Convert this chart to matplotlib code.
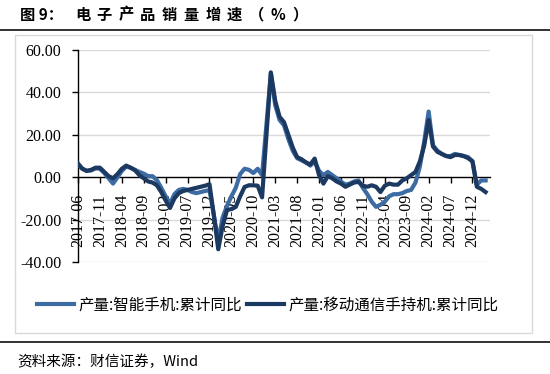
import pandas as pd
import matplotlib.pyplot as plt
from matplotlib.lines import Line2D
from matplotlib.patches import Rectangle
from matplotlib.ticker import FuncFormatter

# monthly categories, 2017-06 .. 2025-03
months = pd.date_range('2017-06', '2025-03', freq='MS').strftime('%Y-%m').tolist()

# 产量:智能手机:累计同比 (%)
smartphone = [
    6.0, 4.0, 3.0, 3.2, 4.2, 4.0, 2.0, -0.5, -3.0, 0.0,
    3.0, 5.0, 4.5, 3.5, 2.5, 1.7, 0.5, 0.5, -1.4, -5.0,
    -9.0, -12.5, -8.0, -6.0, -5.5, -6.0, -7.0, -7.5, -7.0, -6.5,
    -6.0, -18.0, -30.0, -19.0, -13.5, -9.0, -5.0, 1.5, 4.0, 3.5,
    2.0, 4.0, 1.0, 25.0, 49.0, 34.0, 27.0, 24.5, 18.0, 12.5,
    9.0, 8.0, 7.0, 5.5, 7.5, 3.0, 1.0, 2.5, 1.0, -0.5,
    -2.0, -3.5, -3.0, -2.0, -1.5, -5.0, -8.0, -11.5, -14.0, -13.0,
    -11.5, -9.0, -8.0, -8.0, -7.5, -6.5, -6.0, -2.5, 5.0, 17.0,
    31.0, 15.0, 12.5, 11.0, 10.0, 10.0, 11.0, 10.5, 10.0, 9.5,
    7.5, -3.5, -1.5, -1.5,
]

# 产量:移动通信手持机:累计同比 (%)
handset = [
    6.5, 4.0, 3.0, 3.5, 4.5, 4.5, 2.5, 0.5, -0.5, 1.5,
    4.0, 5.5, 4.5, 3.3, 1.0, -0.5, -2.0, -2.5, -3.8, -7.0,
    -11.0, -14.5, -10.0, -7.5, -6.5, -6.0, -5.5, -5.0, -4.5, -4.0,
    -3.3, -18.0, -34.0, -23.0, -15.5, -15.0, -14.0, -9.0, -4.6, -3.8,
    -3.8, -4.0, -9.5, 20.0, 49.5, 36.0, 28.5, 26.0, 20.0, 14.0,
    9.5, 8.5, 7.0, 6.0, 8.8, 1.0, -3.0, 0.5, -0.5, -2.0,
    -3.0, -4.5, -3.5, -2.5, -2.2, -4.0, -4.5, -3.8, -4.5, -7.0,
    -4.0, -3.0, -3.5, -3.5, -1.5, -0.5, 1.0, 2.5, 7.5, 15.0,
    27.0, 14.5, 12.0, 11.0, 10.0, 9.5, 10.5, 10.5, 10.0, 9.0,
    7.5, -4.5, -5.5, -7.0,
]

tick_labels = ['2017-06', '2017-11', '2018-04', '2018-09', '2019-02', '2019-07',
               '2019-12', '2020-05', '2020-10', '2021-03', '2021-08', '2022-01',
               '2022-06', '2022-11', '2023-04', '2023-09', '2024-02', '2024-07',
               '2024-12']
y_ticks = [-40, -20, 0, 20, 40, 60]

legend_labels = ['产量:智能手机:累计同比', '产量:移动通信手持机:累计同比']
colors = ['#3D6BA3', '#1C3961']

cjk = ['Noto Sans CJK SC', 'DejaVu Sans']
serif = 'Liberation Serif'

fig = plt.figure(figsize=(5.5, 3.74), dpi=100)
ax = fig.add_axes([0.1418, 0.2995, 0.7491, 0.5665])

# outer frame of the chart area
fig.add_artist(Rectangle((0.0273, 0.1096), 0.94, 0.7964, transform=fig.transFigure,
                         fill=False, edgecolor='#D9D9D9', linewidth=1.0))
# rules above and below
fig.add_artist(Line2D([0, 1], [0.921, 0.921], transform=fig.transFigure,
                      color='#222222', linewidth=1.3))
fig.add_artist(Line2D([0, 1], [0.0856, 0.0856], transform=fig.transFigure,
                      color='#222222', linewidth=1.3))

# spines first: moving a spine resets the tick labels
ax.spines['top'].set_visible(False)
ax.spines['right'].set_visible(False)
ax.spines['bottom'].set_position(('data', 0))
ax.spines['bottom'].set_zorder(2)
ax.spines['left'].set_linewidth(1.0)
ax.spines['bottom'].set_linewidth(1.0)

x = list(range(len(months)))
ax.plot(x, smartphone, color=colors[0], linewidth=3.0, solid_joinstyle='round', zorder=3)
ax.plot(x, handset, color=colors[1], linewidth=3.0, solid_joinstyle='round', zorder=4)

ax.set_xlim(0, 94)
ax.set_ylim(-40, 60)
ax.set_yticks(y_ticks)
ax.yaxis.set_major_formatter(FuncFormatter(lambda v, p: f'{v:.2f}'))
for v in y_ticks:
    if v != 0:
        ax.axhline(v, color='#D9D9D9', linewidth=1.0, zorder=1)

ax.set_xticks([months.index(t) for t in tick_labels])
ax.set_xticklabels(tick_labels)
ax.tick_params(axis='y', direction='out', length=4, width=1.0, pad=8, colors='black',
               labelsize=11.5, labelfontfamily=serif)
ax.tick_params(axis='x', direction='out', length=4, width=1.0, pad=8, colors='black',
               labelsize=11.5, labelfontfamily=serif, labelrotation=90)

handles = [Line2D([], [], color=c, linewidth=3.0) for c in colors]
fig.legend(handles, legend_labels, loc='center', bbox_to_anchor=(0.487, 0.1845),
           ncol=2, frameon=False, prop={'family': cjk, 'size': 11.2},
           handlelength=2.4, handletextpad=0.3, columnspacing=0.3)

# title, drawn with the wide letter spacing of the original
fig.text(20 / 550, 0.961, '图 9：', fontfamily=cjk, fontsize=11, fontweight='bold',
         va='center', ha='left')
for k, ch in enumerate('电子产品销量增速（%）'):
    fig.text((75 + k * 21.7) / 550, 0.961, ch, fontfamily=cjk, fontsize=11,
             fontweight='bold', va='center', ha='left')

fig.text(17 / 550, 1 - 362 / 374, '资料来源：财信证券，Wind', fontfamily=cjk,
         fontsize=10.5, va='center', ha='left')

fig.savefig('out.png', dpi=100)
